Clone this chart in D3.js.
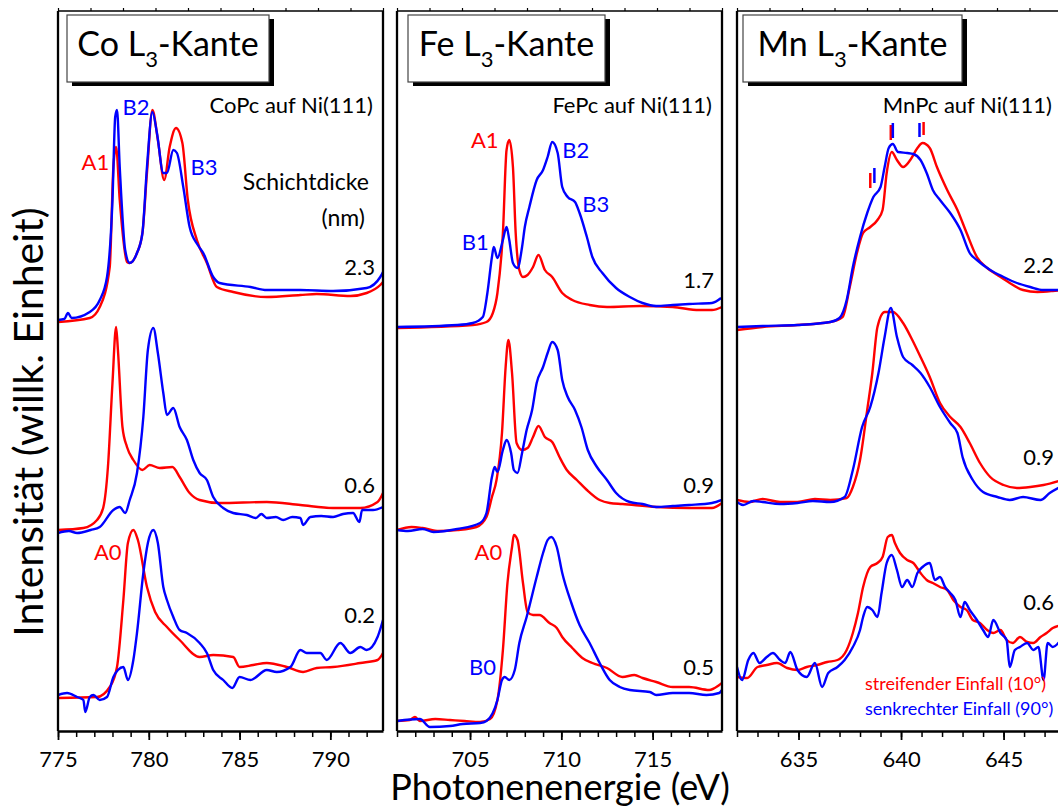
<!DOCTYPE html>
<html>
<head>
<meta charset="utf-8">
<script src="https://cdn.jsdelivr.net/npm/d3@7"></script>
<style>
  body { margin: 0; background: #fff; }
  svg { font-family: Lato, "Open Sans", sans-serif; }
</style>
</head>
<body>
<script>
/** data: [photon energy (eV), intensity (arb. units, offset per film thickness)] **/
// Co L3 edge
const coTopRed = [[775.0,4.08],[776.75,4.12],[777.3,4.23],[777.85,4.63],[778.05,5.63],[778.2,5.83],[778.4,5.30],[778.8,4.68],[778.95,4.67],[779.35,4.77],[779.65,4.97],[779.9,5.57],[780.2,6.20],[780.5,5.90],[780.85,5.50],[781.15,5.83],[781.5,6.02],[781.85,5.87],[782.15,5.30],[782.65,4.90],[783.2,4.67],[783.75,4.43],[784.65,4.38],[786.5,4.33],[788.35,4.35],[789.25,4.36],[791.1,4.34],[792.0,4.37],[792.75,4.45],[792.9,4.48]];
const coTopBlue = [[775.0,4.10],[775.35,4.11],[775.55,4.17],[775.75,4.12],[776.75,4.18],[777.3,4.30],[777.7,4.53],[778.0,5.30],[778.15,6.13],[778.25,6.20],[778.4,5.63],[778.7,4.80],[778.95,4.67],[779.35,4.77],[779.65,4.97],[779.9,5.63],[780.2,6.18],[780.45,5.97],[780.8,5.57],[781.0,5.57],[781.35,5.80],[781.55,5.77],[781.9,5.43],[782.25,5.03],[782.7,4.85],[783.0,4.77],[783.55,4.53],[783.9,4.47],[785.6,4.43],[786.5,4.40],[788.35,4.40],[790.15,4.39],[792.0,4.42],[792.75,4.53],[792.9,4.58]];
const coMidRed = [[775.0,2.00],[776.4,2.02],[777.15,2.10],[777.5,2.23],[777.75,2.63],[778.0,3.47],[778.2,4.03],[778.3,3.80],[778.55,3.03],[778.8,2.83],[779.15,2.70],[779.65,2.60],[780.05,2.65],[780.6,2.62],[781.3,2.63],[781.7,2.53],[782.25,2.37],[782.8,2.30],[783.9,2.27],[786.5,2.28],[788.35,2.25],[790.15,2.22],[791.65,2.22],[792.6,2.28],[792.9,2.37]];
const coMidBlue = [[775.0,1.97],[775.6,1.99],[776.05,1.97],[776.8,2.00],[777.3,2.03],[778.05,2.20],[778.4,2.23],[778.7,2.17],[778.95,2.30],[779.35,2.57],[779.7,3.13],[779.95,3.80],[780.25,4.02],[780.5,3.77],[780.8,3.37],[781.0,3.15],[781.35,3.22],[781.7,3.03],[782.1,2.90],[782.45,2.70],[782.8,2.57],[783.2,2.50],[783.55,2.33],[784.1,2.22],[784.65,2.17],[785.4,2.15],[785.9,2.12],[786.2,2.16],[786.5,2.12],[787.0,2.13],[787.4,2.10],[787.9,2.13],[788.35,2.12],[788.5,2.05],[788.9,2.13],[789.5,2.14],[790.15,2.13],[790.7,2.16],[791.25,2.17],[791.6,2.08],[791.75,2.20],[792.35,2.20],[792.9,2.23]];
const coBotRed = [[775.0,0.32],[777.15,0.33],[777.85,0.43],[778.25,0.63],[778.6,1.30],[778.85,1.87],[779.15,2.00],[779.4,1.90],[779.9,1.43],[780.35,1.18],[781.0,1.03],[781.7,0.90],[782.8,0.73],[783.55,0.75],[784.65,0.73],[785.0,0.63],[785.75,0.65],[786.5,0.67],[787.6,0.63],[788.5,0.58],[789.25,0.62],[790.15,0.63],[791.65,0.67],[792.6,0.70],[792.9,0.77]];
const coBotBlue = [[775.0,0.35],[775.5,0.37],[776.05,0.33],[776.4,0.30],[776.5,0.18],[776.75,0.33],[776.95,0.35],[777.3,0.30],[777.7,0.33],[778.05,0.53],[778.3,0.60],[778.6,0.63],[778.85,0.50],[779.15,0.70],[779.35,0.97],[779.7,1.57],[779.95,1.87],[780.25,2.00],[780.5,1.87],[780.8,1.43],[781.0,1.30],[781.35,1.13],[781.7,1.00],[782.1,0.97],[782.8,0.87],[783.2,0.77],[783.55,0.60],[784.1,0.50],[784.6,0.42],[785.0,0.53],[785.6,0.50],[786.5,0.60],[787.05,0.58],[787.8,0.63],[788.35,0.80],[788.7,0.77],[789.45,0.77],[789.8,0.70],[790.55,0.87],[791.1,0.77],[791.65,0.83],[792.0,0.80],[792.6,0.93],[792.9,1.10]];

// Fe L3 edge
const feTopRed = [[701.0,4.02],[705.15,4.05],[705.9,4.08],[706.25,4.17],[706.5,4.37],[706.8,4.97],[707.0,5.80],[707.15,5.90],[707.35,5.63],[707.5,4.97],[707.7,4.60],[707.9,4.53],[708.15,4.55],[708.45,4.63],[708.75,4.75],[709.1,4.60],[709.5,4.53],[710.05,4.37],[710.6,4.30],[711.55,4.25],[712.5,4.23],[714.3,4.24],[716.1,4.23],[717.55,4.20],[718.25,4.20],[718.8,4.23]];
const feTopBlue = [[701.0,4.03],[704.3,4.05],[705.15,4.07],[705.7,4.13],[705.95,4.37],[706.2,4.73],[706.3,4.83],[706.5,4.72],[706.8,4.90],[707.0,5.03],[707.15,4.90],[707.35,4.67],[707.6,4.62],[707.85,4.83],[708.0,5.03],[708.25,5.23],[708.65,5.50],[709.0,5.60],[709.25,5.73],[709.5,5.88],[709.8,5.77],[710.05,5.43],[710.35,5.33],[710.75,5.28],[711.0,5.17],[711.4,4.93],[711.7,4.73],[712.25,4.57],[713.0,4.42],[713.75,4.33],[714.45,4.27],[715.2,4.24],[716.1,4.25],[717.0,4.26],[718.25,4.27],[718.75,4.32]];
const feMidRed = [[701.0,2.00],[701.8,2.03],[702.4,2.02],[703.3,1.99],[704.3,2.00],[705.35,2.03],[705.9,2.13],[706.2,2.33],[706.45,2.50],[706.75,2.97],[706.95,3.63],[707.1,3.90],[707.3,3.57],[707.55,2.87],[707.85,2.80],[708.15,2.82],[708.45,2.93],[708.75,3.04],[709.1,2.93],[709.5,2.88],[709.9,2.73],[710.3,2.60],[710.85,2.50],[711.4,2.40],[712.1,2.30],[712.65,2.27],[713.35,2.26],[715.2,2.23],[717.0,2.22],[718.25,2.22],[718.8,2.27]];
const feMidBlue = [[701.0,2.00],[701.6,1.99],[702.4,2.01],[703.0,1.98],[704.3,2.01],[705.55,2.07],[705.9,2.17],[706.2,2.53],[706.35,2.63],[706.5,2.58],[706.8,2.80],[707.0,2.90],[707.25,2.77],[707.4,2.60],[707.6,2.57],[707.85,2.77],[708.1,3.00],[708.4,3.20],[708.65,3.47],[709.0,3.63],[709.25,3.77],[709.5,3.88],[709.8,3.80],[710.05,3.50],[710.35,3.33],[710.75,3.20],[711.1,3.03],[711.45,2.80],[711.95,2.63],[712.5,2.50],[713.0,2.37],[713.75,2.28],[714.45,2.26],[715.2,2.23],[716.1,2.24],[717.0,2.25],[718.25,2.27],[718.8,2.30]];
const feBotRed = [[701.0,0.09],[701.7,0.10],[701.98,0.13],[702.25,0.09],[703.1,0.11],[703.9,0.10],[704.7,0.09],[705.55,0.08],[706.1,0.11],[706.5,0.30],[706.8,0.80],[707.05,1.47],[707.3,1.83],[707.4,1.95],[707.6,1.90],[707.9,1.47],[708.15,1.18],[708.45,1.15],[708.8,1.15],[709.35,1.07],[709.75,1.02],[710.05,0.93],[710.6,0.82],[711.15,0.72],[711.7,0.67],[712.5,0.62],[713.35,0.53],[714.0,0.55],[714.45,0.52],[715.2,0.48],[716.1,0.43],[717.0,0.43],[718.1,0.40],[718.65,0.45],[718.8,0.47]];
const feBotBlue = [[701.0,0.09],[702.25,0.11],[702.8,0.03],[703.9,0.04],[704.6,0.06],[705.55,0.07],[705.9,0.09],[706.5,0.30],[706.75,0.50],[706.9,0.53],[707.15,0.50],[707.45,0.60],[707.7,0.87],[708.1,1.13],[708.65,1.53],[709.0,1.77],[709.25,1.90],[709.45,1.93],[709.75,1.83],[710.05,1.57],[710.55,1.27],[711.0,1.05],[711.55,0.87],[712.1,0.67],[712.65,0.50],[713.2,0.43],[713.75,0.40],[714.85,0.38],[715.2,0.35],[716.1,0.37],[717.0,0.37],[717.95,0.35],[718.65,0.37],[718.8,0.40]];

// Mn L3 edge
const mnTopRed = [[632.0,4.00],[633.25,4.03],[634.95,4.05],[636.55,4.08],[637.15,4.13],[637.5,4.43],[637.85,4.77],[638.15,4.97],[638.5,5.03],[638.85,5.10],[639.1,5.20],[639.3,5.57],[639.55,5.78],[639.8,5.70],[640.1,5.63],[640.45,5.70],[640.8,5.82],[641.05,5.87],[641.4,5.82],[641.75,5.63],[642.25,5.40],[642.75,5.20],[643.2,4.97],[643.7,4.73],[644.2,4.62],[644.7,4.55],[645.3,4.47],[645.95,4.40],[646.65,4.38],[647.4,4.39],[647.85,4.40]];
const mnTopBlue = [[632.0,4.03],[633.25,4.04],[634.95,4.05],[636.55,4.08],[637.0,4.12],[637.35,4.30],[637.65,4.63],[638.0,4.93],[638.35,5.17],[638.65,5.33],[639.0,5.43],[639.2,5.63],[639.4,5.82],[639.6,5.86],[639.85,5.78],[640.3,5.77],[640.6,5.76],[640.95,5.70],[641.25,5.57],[641.55,5.40],[641.9,5.30],[642.4,5.17],[642.9,5.00],[643.35,4.77],[643.7,4.70],[644.35,4.60],[645.0,4.53],[645.65,4.47],[646.3,4.43],[646.95,4.40],[647.85,4.40]];
const mnMidRed = [[632.0,2.30],[632.6,2.28],[633.25,2.31],[634.1,2.28],[634.95,2.28],[635.8,2.31],[636.55,2.30],[637.35,2.32],[637.65,2.43],[638.0,2.70],[638.35,3.20],[638.6,3.57],[638.85,4.03],[639.2,4.18],[639.6,4.18],[640.1,4.07],[640.55,3.90],[640.95,3.73],[641.4,3.53],[641.9,3.27],[642.4,3.13],[642.9,3.03],[643.35,2.87],[643.85,2.67],[644.35,2.53],[645.0,2.45],[645.65,2.42],[646.3,2.43],[646.95,2.45],[647.85,2.50]];
const mnMidBlue = [[632.0,2.28],[632.3,2.25],[632.8,2.29],[633.25,2.28],[634.1,2.26],[634.95,2.27],[635.7,2.29],[636.55,2.28],[637.25,2.33],[637.65,2.60],[638.1,3.03],[638.5,3.23],[638.9,3.57],[639.2,3.93],[639.5,4.22],[639.8,3.93],[640.1,3.73],[640.55,3.65],[640.95,3.57],[641.4,3.43],[641.9,3.23],[642.4,3.07],[642.75,2.97],[643.0,2.73],[643.5,2.50],[644.0,2.38],[644.7,2.33],[645.3,2.30],[645.95,2.33],[646.8,2.30],[647.25,2.37],[647.85,2.44]];
const mnBotRed = [[632.0,0.53],[632.5,0.52],[633.0,0.63],[633.45,0.65],[633.95,0.67],[634.45,0.62],[634.95,0.60],[635.4,0.63],[635.9,0.65],[636.4,0.68],[636.9,0.70],[637.35,0.80],[637.65,0.97],[637.9,1.17],[638.15,1.43],[638.5,1.63],[638.85,1.67],[639.1,1.73],[639.35,1.93],[639.55,1.95],[639.7,1.87],[639.95,1.77],[640.3,1.70],[640.6,1.67],[640.95,1.57],[641.25,1.50],[641.55,1.47],[641.9,1.43],[642.25,1.40],[642.55,1.30],[642.9,1.23],[643.2,1.20],[643.5,1.10],[643.85,1.07],[644.2,1.00],[644.5,0.97],[644.85,1.00],[645.15,0.90],[645.45,0.87],[645.8,0.93],[646.15,0.88],[646.45,0.87],[646.8,0.93],[647.1,0.97],[647.4,1.02],[647.85,1.05]];
const mnBotBlue = [[632.0,0.63],[632.25,0.50],[632.55,0.70],[632.8,0.77],[633.1,0.67],[633.45,0.73],[633.75,0.77],[634.1,0.70],[634.35,0.67],[634.6,0.78],[634.95,0.60],[635.4,0.53],[635.8,0.67],[636.15,0.43],[636.45,0.57],[636.9,0.63],[637.25,0.70],[637.65,0.83],[638.0,1.00],[638.15,1.13],[638.35,1.23],[638.6,1.20],[638.85,1.13],[639.05,1.37],[639.3,1.67],[639.55,1.75],[639.8,1.60],[640.05,1.43],[640.3,1.50],[640.55,1.43],[640.8,1.57],[641.05,1.63],[641.4,1.67],[641.65,1.50],[641.9,1.53],[642.15,1.43],[642.4,1.37],[642.65,1.30],[642.9,1.13],[643.1,1.28],[643.35,1.20],[643.7,1.10],[644.0,1.00],[644.25,0.93],[644.5,1.10],[644.85,0.97],[645.15,0.90],[645.3,0.63],[645.55,0.80],[645.8,0.83],[646.15,0.87],[646.45,0.80],[646.7,0.83],[646.95,0.50],[647.15,0.87],[647.4,0.83],[647.85,0.92]];
// peak markers in the Mn spectrum: [energy, from, to]
const mnMarksRed = [[638.5,5.42,5.57],[639.5,5.90,6.05],[641.1,5.95,6.08]];
const mnMarksBlue = [[638.7,5.47,5.62],[639.6,5.92,6.07],[640.9,5.93,6.07]];

/** axes **/
const coRange = [775, 792.9], feRange = [701, 718.8], mnRange = [632, 647.85];
const coTicks = [775, 780, 785, 790], feTicks = [705, 710, 715], mnTicks = [635, 640, 645];
const coThick = ["2.3", "0.6", "0.2"], feThick = ["1.7", "0.9", "0.5"], mnThick = ["2.2", "0.9", "0.6"];
const coThickAt = [4.55, 2.37, 1.07], feThickAt = [4.42, 2.37, 0.55], mnThickAt = [4.57, 2.65, 1.20];

var red = "#ff0000", blue = "#0000ff";

var width = 1058, height = 807;
var top0 = 11, bottom0 = 731;
var svg = d3.select("body").append("svg").attr("width", width).attr("height", height);

var y = d3.scaleLinear().domain([0, 7.2]).range([730, 10]);

var panels = [
    { id: "co", el: "Co", left: 58, range: coRange, ticks: coTicks, thick: coThick, thickAt: coThickAt,
      curves: [coTopRed, coTopBlue, coMidRed, coMidBlue, coBotRed, coBotBlue],
      box: [67, 202], sample: "CoPc auf Ni(111)",
      labels: [["A1", red, 776.3, 5.6], ["B2", blue, 778.55, 6.15], ["B3", blue, 782.3, 5.55], ["A0", red, 776.98, 1.7]] },
    { id: "fe", el: "Fe", left: 397, range: feRange, ticks: feTicks, thick: feThick, thickAt: feThickAt,
      curves: [feTopRed, feTopBlue, feMidRed, feMidBlue, feBotRed, feBotBlue],
      box: [408, 197], sample: "FePc auf Ni(111)",
      labels: [["A1", red, 705.05, 5.82], ["B2", blue, 710.05, 5.72], ["B3", blue, 711.15, 5.18], ["B1", blue, 704.55, 4.8], ["A0", red, 705.25, 1.7], ["B0", blue, 704.95, 0.55]] },
    { id: "mn", el: "Mn", left: 737, range: mnRange, ticks: mnTicks, thick: mnThick, thickAt: mnThickAt,
      curves: [mnTopRed, mnTopBlue, mnMidRed, mnMidBlue, mnBotRed, mnBotBlue],
      box: [743, 219], sample: "MnPc auf Ni(111)", labels: [] }
];
var pw = 325;

panels.forEach(p => {
    var x = d3.scaleLinear().domain(p.range).range([p.left, p.left + pw]);
    var g = svg.append("g");

    g.append("clipPath").attr("id", "clip-" + p.id)
        .append("rect").attr("x", p.left).attr("y", top0).attr("width", pw).attr("height", bottom0 - top0);

    // spectra
    var line = d3.line().x(d => x(d[0])).y(d => y(d[1])).curve(d3.curveMonotoneX);
    g.append("g").attr("clip-path", "url(#clip-" + p.id + ")")
        .selectAll("path").data(p.curves).enter().append("path")
        .attr("d", line)
        .attr("fill", "none")
        .attr("stroke", (d, i) => i % 2 ? blue : red)
        .attr("stroke-width", 2.4)
        .attr("stroke-linejoin", "round");

    // frame
    g.append("line").attr("x1", p.left).attr("x2", p.left + pw).attr("y1", top0).attr("y2", top0)
        .attr("stroke", "#000").attr("stroke-width", 1.5);
    g.append("line").attr("x1", p.left).attr("x2", p.left).attr("y1", top0).attr("y2", bottom0)
        .attr("stroke", "#000").attr("stroke-width", 2.3);
    g.append("line").attr("x1", p.left + pw).attr("x2", p.left + pw).attr("y1", top0).attr("y2", bottom0)
        .attr("stroke", "#000").attr("stroke-width", 2.3);

    // small ticks along the top edge
    var xt = d3.scaleLinear().domain([0, 10]).range([p.left, p.left + pw]);
    g.append("g").attr("transform", "translate(0," + top0 + ")")
        .call(d3.axisTop(xt).ticks(10).tickSize(3).tickFormat(""))
        .call(a => a.select(".domain").remove())
        .call(a => a.selectAll("text").remove())
        .selectAll("line").attr("stroke-width", 1.2);

    // bottom axis: minor + major ticks
    var minor = d3.range(Math.ceil(p.range[0]), p.range[1] + 0.001, 1);
    g.append("g").attr("transform", "translate(0," + bottom0 + ")")
        .call(d3.axisBottom(x).tickValues(minor).tickSize(6).tickFormat(""))
        .call(a => a.select(".domain").remove())
        .call(a => a.selectAll("text").remove())
        .selectAll("line").attr("stroke-width", 1.5);
    var ax = g.append("g").attr("transform", "translate(0," + bottom0 + ")")
        .call(d3.axisBottom(x).tickValues(p.ticks).tickSize(9).tickSizeOuter(0).tickPadding(11).tickFormat(d3.format("d")));
    ax.select(".domain").attr("stroke-width", 2.6);
    ax.selectAll(".tick line").attr("stroke-width", 1.8);
    ax.selectAll("text").attr("font-size", 22).attr("font-family", "Lato").attr("fill", "#000");

    // thickness labels
    g.selectAll("text.thick").data(p.thick).enter().append("text")
        .attr("x", p.left + pw - 8).attr("y", (d, i) => y(p.thickAt[i]))
        .attr("text-anchor", "end").attr("font-size", 22).text(d => d);

    // sample name
    g.append("text").attr("x", p.left + pw - 10).attr("y", 113)
        .attr("text-anchor", "end").attr("font-size", 22).text(p.sample);

    // peak labels
    g.selectAll("text.peak").data(p.labels).enter().append("text")
        .attr("x", d => x(d[2])).attr("y", d => y(d[3]))
        .attr("fill", d => d[1]).attr("font-size", 22).text(d => d[0]);

    // title box with shadow
    g.append("rect").attr("x", p.box[0] + 5).attr("y", 19).attr("width", p.box[1]).attr("height", 67).attr("fill", "#000");
    g.append("rect").attr("x", p.box[0]).attr("y", 15).attr("width", p.box[1]).attr("height", 67)
        .attr("fill", "#fff").attr("stroke", "#444").attr("stroke-width", 1.2);
    var t = g.append("text").attr("x", p.box[0] + p.box[1] / 2).attr("y", 56)
        .attr("text-anchor", "middle").attr("font-size", 34);
    t.append("tspan").text(p.el + " L");
    t.append("tspan").attr("font-size", 22).attr("dy", 11).text("3");
    t.append("tspan").attr("dy", -11).text("-Kante");

    if (p.id == "mn") {
        var marks = mnMarksRed.map(d => d.concat([red])).concat(mnMarksBlue.map(d => d.concat([blue])));
        g.selectAll("line.mark").data(marks).enter().append("line")
            .attr("x1", d => x(d[0])).attr("x2", d => x(d[0]))
            .attr("y1", d => y(d[1])).attr("y2", d => y(d[2]))
            .attr("stroke", d => d[3]).attr("stroke-width", 2.5);
    }
});

// extra Co annotation
svg.append("text").attr("x", 369).attr("y", 190).attr("text-anchor", "end").attr("font-size", 23).text("Schichtdicke");
svg.append("text").attr("x", 365).attr("y", 226).attr("text-anchor", "end").attr("font-size", 23).text("(nm)");

// legend
svg.append("text").attr("x", 865).attr("y", 690).attr("fill", red).attr("font-size", 18).text("streifender Einfall (10°)");
svg.append("text").attr("x", 865).attr("y", 715).attr("fill", blue).attr("font-size", 18).text("senkrechter Einfall (90°)");

// axis titles
svg.append("text").attr("x", 560).attr("y", 800).attr("text-anchor", "middle").attr("font-size", 36).text("Photonenenergie (eV)");
svg.append("text").attr("transform", "translate(43,422) rotate(-90)").attr("text-anchor", "middle")
    .attr("font-size", 41).text("Intensität (willk. Einheit)");
</script>
</body>
</html>
